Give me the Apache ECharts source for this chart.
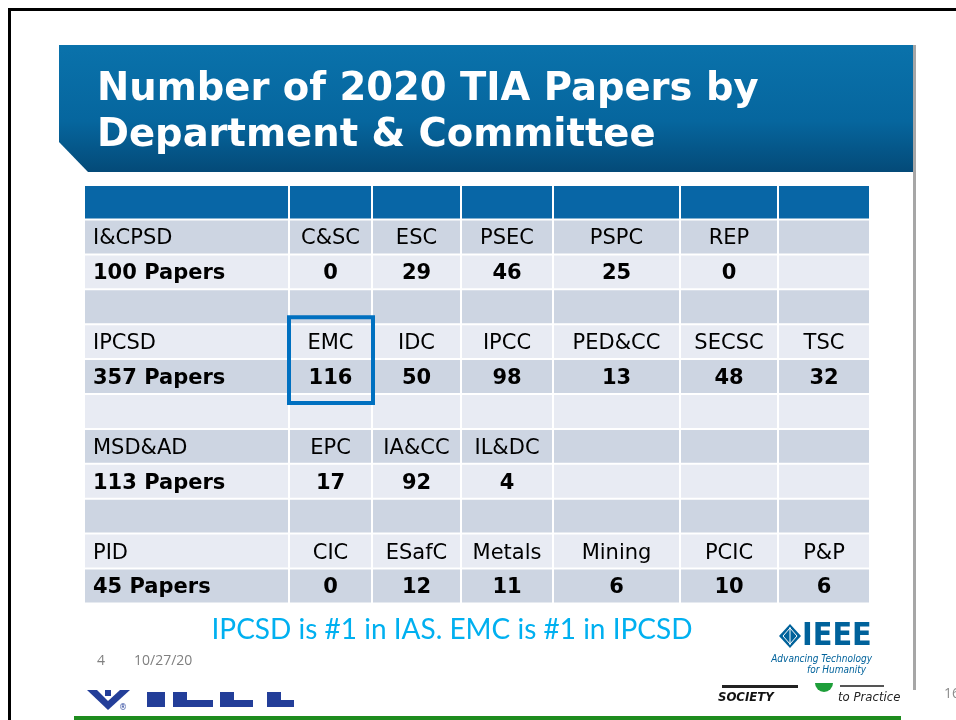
<!DOCTYPE html>
<html>
<head>
<meta charset="utf-8">
<script src="https://cdn.jsdelivr.net/npm/echarts@6/dist/echarts.min.js"></script>
<style>
html, body { margin: 0; padding: 0; background: #fff; }
#chart { width: 956px; height: 720px; }
</style>
</head>
<body>
<div id="chart"></div>
<script>
// data
const departments = ['I&CPSD', 'IPCSD', 'MSD&AD', 'PID'];
const deptPapers = [100, 357, 113, 45];
const committees = [
    ['C&SC', 'ESC', 'PSEC', 'PSPC', 'REP'],
    ['EMC', 'IDC', 'IPCC', 'PED&CC', 'SECSC', 'TSC'],
    ['EPC', 'IA&CC', 'IL&DC'],
    ['CIC', 'ESafC', 'Metals', 'Mining', 'PCIC', 'P&P']
];
const committeePapers = [
    [0, 29, 46, 25, 0],
    [116, 50, 98, 13, 48, 32],
    [17, 92, 4],
    [0, 12, 11, 6, 10, 6]
];
const highlighted = 'EMC';

// table layout (relative to grid origin)
const colEdges = [0, 205, 288, 377, 469, 596, 694, 786];
const headerH = 34.5;
const rowH = 34.9;
const nCols = colEdges.length - 1;
const nRows = 1 + departments.length * 3 - 1;

function rowTop(r) {
    return r === 0 ? 0 : headerH + (r - 1) * rowH;
}

// build table cells
const cells = [];
for (let r = 0; r < nRows; r++) {
    for (let c = 0; c < nCols; c++) {
        let text = '', bold = false, hl = false;
        if (r > 0) {
            const d = Math.floor((r - 1) / 3);
            const k = (r - 1) % 3;
            if (k === 0) {
                text = c === 0 ? departments[d] : (committees[d][c - 1] || '');
                hl = c > 0 && committees[d][c - 1] === highlighted;
            } else if (k === 1) {
                bold = true;
                text = c === 0 ? deptPapers[d] + ' Papers'
                    : (committeePapers[d][c - 1] !== undefined ? String(committeePapers[d][c - 1]) : '');
            }
        }
        cells.push({ col: c, row: r, text: text, bold: bold, hl: hl });
    }
}

const chart = echarts.init(document.getElementById('chart'));

chart.setOption({
    animation: false,
    backgroundColor: '#ffffff',
    grid: { left: 84, top: 185, width: 786, height: 419 },
    xAxis: { type: 'value', min: 0, max: 786, show: false },
    yAxis: { type: 'value', min: 0, max: 419, inverse: true, show: false },
    graphic: [
        // slide frame
        { type: 'line', shape: { x1: 8, y1: 9.5, x2: 956, y2: 9.5 }, style: { stroke: '#000', lineWidth: 3 } },
        { type: 'line', shape: { x1: 9.5, y1: 8, x2: 9.5, y2: 720 }, style: { stroke: '#000', lineWidth: 3 } },
        { type: 'line', shape: { x1: 914.5, y1: 45, x2: 914.5, y2: 690 }, style: { stroke: '#a6a6a6', lineWidth: 3 } },
        // title banner
        {
            type: 'polygon',
            shape: { points: [[59, 45], [913, 45], [913, 172], [88, 172], [59, 142]] },
            style: {
                fill: new echarts.graphic.LinearGradient(0, 0, 0, 1, [
                    { offset: 0, color: '#0a72ab' },
                    { offset: 0.6, color: '#06669e' },
                    { offset: 1, color: '#044a78' }
                ])
            }
        },
        {
            type: 'text', left: 97, top: 70,
            style: { text: 'Number of 2020 TIA Papers by', fill: '#fff', font: 'bold 38.5px "DejaVu Sans"' }
        },
        {
            type: 'text', left: 97, top: 116,
            style: { text: 'Department & Committee', fill: '#fff', font: 'bold 38.5px "DejaVu Sans"' }
        },
        // caption
        {
            type: 'text', x: 452, y: 630,
            style: { text: 'IPCSD is #1 in IAS. EMC is #1 in IPCSD', fill: '#00b0f0', font: '28px Lato', align: 'center', verticalAlign: 'middle', textAlign: 'center', textVerticalAlign: 'middle' }
        },
        // footer
        { type: 'text', x: 97, y: 661, style: { text: '4', fill: '#808080', font: '14px "Open Sans"', verticalAlign: 'middle', textVerticalAlign: 'middle' } },
        { type: 'text', x: 134, y: 661, style: { text: '10/27/20', fill: '#808080', font: '14px "Open Sans"', verticalAlign: 'middle', textVerticalAlign: 'middle' } },
        { type: 'text', x: 944, y: 694, style: { text: '16', fill: '#8c8c8c', font: '14px "Open Sans"', verticalAlign: 'middle', textVerticalAlign: 'middle' } },
        // IEEE logo
        { type: 'polygon', shape: { points: [[790, 624], [801, 636], [790, 648], [779, 636]] }, style: { fill: '#00629b' } },
        { type: 'polygon', shape: { points: [[790, 628], [797, 636], [790, 644], [783, 636]] }, style: { fill: 'none', stroke: '#fff', lineWidth: 1 } },
        { type: 'line', shape: { x1: 790, y1: 627, x2: 790, y2: 645 }, style: { stroke: '#fff', lineWidth: 1 } },
        {
            type: 'text', x: 802, y: 637,
            style: { text: 'IEEE', fill: '#00629b', font: 'bold 32px "DejaVu Sans Condensed"', verticalAlign: 'middle', textVerticalAlign: 'middle' }
        },
        {
            type: 'text', x: 872, y: 659,
            style: { text: 'Advancing Technology', fill: '#00629b', font: 'italic 10px "DejaVu Sans Condensed"', align: 'right', textAlign: 'right', verticalAlign: 'middle', textVerticalAlign: 'middle' }
        },
        {
            type: 'text', x: 866, y: 670,
            style: { text: 'for Humanity', fill: '#00629b', font: 'italic 10px "DejaVu Sans Condensed"', align: 'right', textAlign: 'right', verticalAlign: 'middle', textVerticalAlign: 'middle' }
        },
        // cropped IAS logo, bottom left
        { type: 'polygon', shape: { points: [[87, 690], [130, 690], [108, 710]] }, style: { fill: '#233e99' } },
        { type: 'polygon', shape: { points: [[97, 690], [120, 690], [108, 701]] }, style: { fill: '#fff' } },
        { type: 'rect', shape: { x: 105, y: 690, width: 6, height: 6 }, style: { fill: '#233e99' } },
        { type: 'text', x: 119, y: 708, style: { text: '®', fill: '#233e99', font: '8px "DejaVu Sans"', verticalAlign: 'middle', textVerticalAlign: 'middle' } },
        { type: 'rect', shape: { x: 147, y: 692, width: 18, height: 15 }, style: { fill: '#233e99' } },
        { type: 'rect', shape: { x: 173, y: 692, width: 14, height: 15 }, style: { fill: '#233e99' } },
        { type: 'rect', shape: { x: 173, y: 700, width: 40, height: 7 }, style: { fill: '#233e99' } },
        { type: 'rect', shape: { x: 220, y: 692, width: 14, height: 15 }, style: { fill: '#233e99' } },
        { type: 'rect', shape: { x: 220, y: 700, width: 33, height: 7 }, style: { fill: '#233e99' } },
        { type: 'rect', shape: { x: 267, y: 692, width: 14, height: 15 }, style: { fill: '#233e99' } },
        { type: 'rect', shape: { x: 267, y: 700, width: 27, height: 7 }, style: { fill: '#233e99' } },
        // cropped IAS text, bottom right
        { type: 'rect', shape: { x: 722, y: 685, width: 76, height: 3 }, style: { fill: '#222' } },
        {
            type: 'text', x: 718, y: 698,
            style: { text: 'SOCIETY', fill: '#111', font: 'italic bold 13px "DejaVu Sans Condensed"', verticalAlign: 'middle', textVerticalAlign: 'middle' }
        },
        { type: 'sector', shape: { cx: 824, cy: 683, r0: 0, r: 9, startAngle: 0, endAngle: Math.PI }, style: { fill: '#1e9e3a' } },
        { type: 'rect', shape: { x: 840, y: 685, width: 44, height: 2 }, style: { fill: '#555' } },
        {
            type: 'text', x: 838, y: 698,
            style: { text: 'to Practice', fill: '#222', font: 'italic 13px "DejaVu Sans Condensed"', verticalAlign: 'middle', textVerticalAlign: 'middle' }
        },
        { type: 'rect', shape: { x: 74, y: 716, width: 827, height: 4 }, style: { fill: '#1e8c1e' } }
    ],
    series: [
        {
            type: 'custom',
            clip: false,
            data: cells.map(function (c) { return [c.col, c.row]; }),
            renderItem: function (params, api) {
                const cell = cells[params.dataIndex];
                const c = cell.col, r = cell.row;
                const p0 = api.coord([colEdges[c], rowTop(r)]);
                const p1 = api.coord([colEdges[c + 1], rowTop(r + 1)]);
                let fill;
                if (r === 0) fill = '#0866a6';
                else fill = (r % 2 === 1) ? '#cdd5e2' : '#e8ebf3';
                const children = [{
                    type: 'rect',
                    shape: { x: p0[0] + 1, y: p0[1] + 1, width: p1[0] - p0[0] - 2, height: p1[1] - p0[1] - 2 },
                    style: { fill: fill }
                }];
                if (cell.text) {
                    const cy = (p0[1] + p1[1]) / 2 + 2;
                    const cx = c === 0 ? p0[0] + 9 : (p0[0] + p1[0]) / 2;
                    children.push({
                        type: 'text',
                        style: {
                            text: cell.text,
                            x: cx, y: cy,
                            fill: '#000',
                            font: (cell.bold ? 'bold ' : '') + '21px "DejaVu Sans"',
                            align: c === 0 ? 'left' : 'center',
                            textAlign: c === 0 ? 'left' : 'center',
                            verticalAlign: 'middle',
                            textVerticalAlign: 'middle'
                        }
                    });
                }
                if (cell.hl) {
                    const pb = api.coord([colEdges[c + 1], rowTop(r + 2)]);
                    children.push({
                        type: 'rect',
                        z2: 10,
                        shape: { x: p0[0], y: p0[1] - 7, width: pb[0] - p0[0] + 1, height: pb[1] - p0[1] + 16 },
                        style: { fill: 'none', stroke: '#0070c0', lineWidth: 4 }
                    });
                }
                return { type: 'group', children: children };
            }
        }
    ]
});
</script>
</body>
</html>
